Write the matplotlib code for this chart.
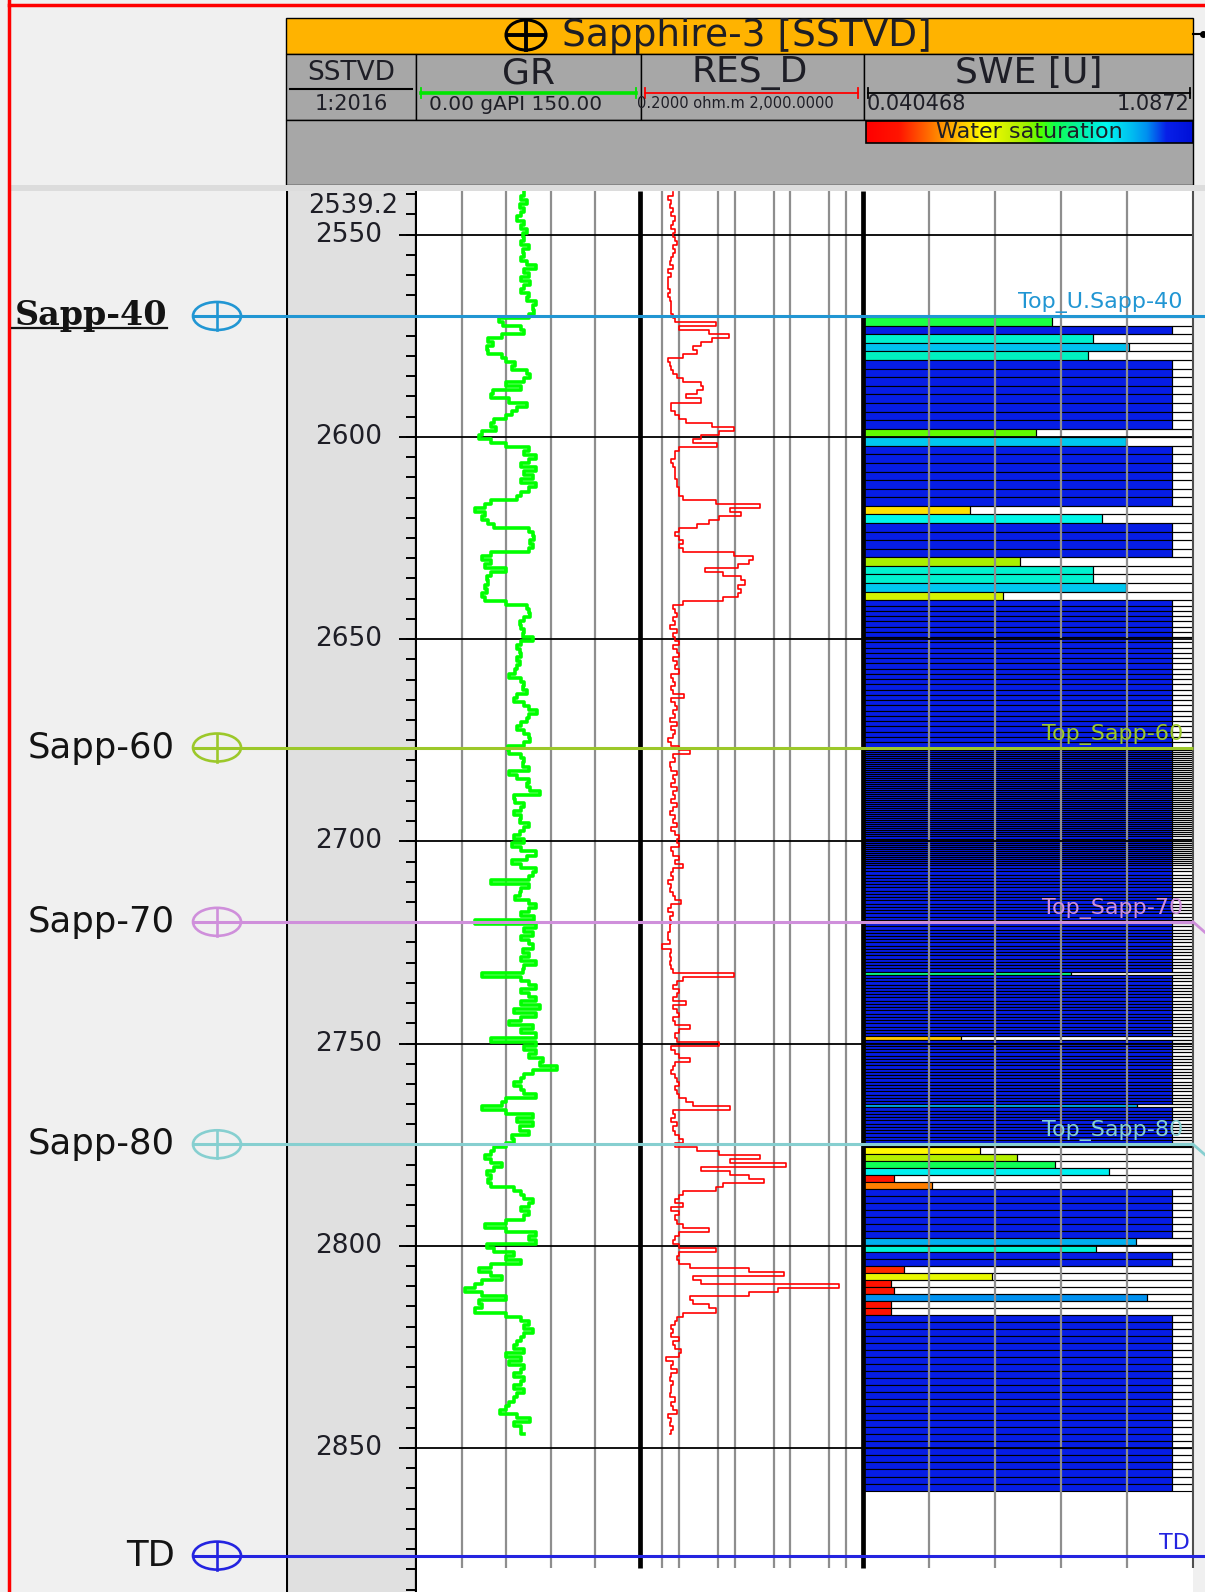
import numpy as np
import matplotlib
matplotlib.use("Agg")
import matplotlib.pyplot as plt
from matplotlib.patches import Rectangle, Ellipse
from matplotlib.colors import LinearSegmentedColormap, Normalize

plt.rcParams["font.family"] = ["DejaVu Sans"]

W, H = 1205, 1592

# ---------------------------------------------------------------- log data
DEPTH_TOP, DEPTH_BASE = 2539.2, 2885.6   # SSTVD window
LOG_BASE = 2879.7                        # bottom of the track grid
DEPTH_LABELS = [2550, 2600, 2650, 2700, 2750, 2800, 2850]

# GR (gAPI) and RES_D (ohm.m), one sample per metre from 2539.5 m
LOG_START, LOG_STEP = 2539.5, 1.0
GR = [
    72, 70, 74, 69, 72, 70, 67, 72, 70, 74, 71, 72, 70, 75, 71, 72, 70, 74, 80, 72,
    75, 70, 76, 72, 70, 75, 74, 80, 78, 79, 75, 55, 58, 70, 72, 57, 48, 51, 47, 48,
    57, 60, 66, 64, 74, 76, 72, 60, 70, 51, 50, 62,
    74, 67, 64, 60, 52, 50, 53, 44, 42, 50, 60, 75, 72, 80, 75, 70, 80, 72, 78, 70,
    80, 75, 70, 67, 50, 46, 39, 46, 44, 48, 52, 75, 78, 79, 76, 78, 75, 50, 44, 50,
    46, 60, 50, 47, 48, 46, 47, 44, 46, 60, 74, 75, 76,
    72, 69, 70, 72, 71, 78, 70, 67, 69, 70, 67, 69, 67, 66, 62, 70, 72, 71, 74, 67,
    65, 72, 75, 81, 75, 74, 70, 67, 72, 75, 76, 72, 61, 62, 70, 72, 71, 75, 62, 67,
    75, 74, 76, 83, 65, 66, 72, 70, 65, 70, 69, 75, 72,
    69, 65, 72, 64, 70, 80, 74, 64, 70, 80, 78, 75, 50, 75, 70, 69, 66, 75, 80, 75,
    70, 79, 39, 80, 72, 78, 70, 75, 78, 71, 75, 70, 80, 72, 71, 44, 70, 75, 80, 70,
    75, 80, 70, 83, 65, 80, 70, 62, 78, 70, 80, 50, 80,
    72, 80, 75, 85, 83, 94, 78, 72, 70, 65, 70, 72, 80, 60, 57, 44, 60, 78, 67, 78,
    69, 75, 64, 65, 60, 52, 50, 46, 50, 57, 52, 47, 50, 48, 50, 65, 70, 72, 78, 75,
    70, 75, 72, 60, 46, 60, 80, 75, 80, 47, 52, 65, 60,
    70, 50, 42, 50, 57, 44, 39, 32, 44, 60, 42, 44, 39, 60, 70, 75, 72, 78, 72, 70,
    67, 65, 72, 60, 70, 62, 72, 70, 65, 72, 70, 65, 72, 67, 65, 62, 60, 56, 67, 76,
    65, 70, 70, 72,
]
RES_D = [
    0.79, 0.63, 0.73, 0.68, 0.79, 0.73, 0.85, 0.79, 0.73, 0.85, 0.79, 0.85, 0.92, 0.79,
    0.85, 0.79, 0.73, 0.68, 0.79, 0.63, 0.73, 0.63, 0.63, 0.63, 0.68, 0.63, 0.68, 0.73,
    0.73, 0.73, 0.79, 0.85, 4.6, 0.99, 3.4, 7.8, 3.9, 2.5, 1.8, 2.1, 1.16, 0.63, 0.68,
    0.73, 0.79, 0.92, 1.16, 2.5, 2.7, 2.1, 1.35, 2.5,
    0.73, 0.73, 0.85, 0.99, 1.35, 3.9, 9.8, 5.3, 2.5, 1.8, 4.9, 0.99, 0.85, 0.85, 0.73,
    0.79, 0.85, 0.85, 0.85, 0.92, 0.92, 0.99, 0.99, 1.16, 4.6, 28, 8.4, 13, 5.3, 3.4,
    2.1, 0.99, 0.85, 0.99, 1.16, 0.99, 1.16, 9.8, 21, 18, 11.4, 2.9, 6.2, 13, 15, 11.4,
    13, 11.4, 6.2, 1.16, 0.79, 0.85, 0.92,
    0.79, 0.85, 0.68, 0.92, 0.79, 0.85, 0.99, 0.79, 0.92, 0.99, 0.79, 0.92, 0.85, 0.99,
    0.73, 0.79, 0.85, 0.73, 0.79, 1.25, 0.73, 0.85, 0.92, 0.79, 0.85, 0.68, 0.92, 0.73,
    0.85, 0.79, 0.63, 0.73, 0.99, 1.57, 0.79, 0.85, 0.68, 0.73, 0.92, 0.79, 0.85, 0.73,
    0.92, 0.79, 0.85, 0.73, 0.92, 0.79, 0.68, 0.85, 0.79, 0.92, 0.73,
    0.85, 0.99, 0.92, 0.99, 0.73, 0.79, 0.99, 0.85, 1.16, 0.79, 0.73, 0.79, 0.63, 0.73,
    0.68, 0.79, 0.85, 1.07, 0.73, 0.63, 0.79, 0.68, 0.73, 0.68, 0.68, 0.63, 0.63, 0.68,
    0.5, 0.73, 0.68, 0.73, 0.68, 0.73, 0.79, 9.8, 1.16, 0.92, 0.79, 0.99, 0.92, 0.79,
    1.35, 0.79, 0.92, 0.99, 0.79, 0.85, 1.57, 0.99, 0.85, 0.92, 5.3,
    0.73, 0.85, 0.99, 1.57, 0.85, 0.79, 0.73, 0.85, 0.92, 0.99, 0.85, 0.92, 0.99, 1.35,
    1.82, 8.4, 0.79, 0.85, 0.73, 0.92, 0.79, 0.85, 0.99, 1.16, 0.85, 2.1, 5.3, 28, 8.4,
    83, 2.5, 8.4, 18, 33, 6.2, 4.6, 1.16, 0.99, 0.85, 1.16, 0.73, 0.99, 0.85, 0.92,
    1.16, 3.4, 0.99, 0.85, 0.79, 0.99, 4.6, 0.99, 0.92,
    0.99, 1.57, 18, 77, 1.82, 2.5, 754, 61, 18, 1.57, 1.82, 3.4, 4.6, 1.16, 0.92, 0.85,
    0.73, 0.79, 0.73, 0.99, 0.79, 0.85, 1.07, 0.99, 0.58, 0.79, 0.73, 0.92, 0.73, 0.68,
    0.79, 0.73, 0.73, 0.68, 0.85, 0.73, 0.79, 0.92, 0.63, 0.73, 0.68, 0.79, 0.73, 0.68,
]

# SWE: runs of equally spaced samples (top of run, sample step, values)
SWE_MIN, SWE_MAX = 0.040468, 1.0872
SWE_RUN_TOPS = [2570.4, 2640.4, 2676.8, 2705.8, 2775.5]
SWE_RUN_STEPS = [2.12, 1.3, 0.5, 0.8, 1.735]
SWE_RUN_A = ([0.64, 1.02, 0.77, 0.885, 0.755] + [1.02] * 8 + [0.59, 0.875]
             + [1.02] * 7 + [0.38, 0.80] + [1.02] * 4
             + [0.54, 0.77, 0.77, 0.875, 0.485])
SWE_RUN_B = [1.02] * 28
SWE_RUN_C = [1.02] * 58
SWE_RUN_D = ([1.02] * 33 + [0.70] + [1.02] * 19 + [0.35] + [1.02] * 20
             + [0.91] + [1.02] * 12)
SWE_RUN_E = ([0.41, 0.53, 0.65, 0.82, 0.14, 0.26] + [1.02] * 7
             + [0.906, 0.78, 1.02, 1.02, 0.17, 0.45, 0.13, 0.14, 0.94, 0.13, 0.13]
             + [1.02] * 25)
SWE_RUNS = [SWE_RUN_A, SWE_RUN_B, SWE_RUN_C, SWE_RUN_D, SWE_RUN_E]

# formation tops
TOP_NAMES = ["Sapp-40", "Sapp-60", "Sapp-70", "Sapp-80", "TD"]
TOP_LABELS = ["Top_U.Sapp-40", "Top_Sapp-60", "Top_Sapp-70", "Top_Sapp-80", "TD"]
TOP_DEPTHS = [2570.1, 2676.8, 2719.9, 2774.9, 2876.6]
TOP_COLORS = ["#2196d3", "#9cc82a", "#cf8fdb", "#86cfd0", "#2424e0"]

SWE_CMAP = LinearSegmentedColormap.from_list("water_saturation", [
    (0.00, "#ff0000"), (0.10, "#ff1500"), (0.21, "#ff8000"), (0.31, "#ffd400"),
    (0.36, "#ffff00"), (0.44, "#c8f000"), (0.49, "#a0f000"), (0.535, "#50ff00"),
    (0.58, "#10ff50"), (0.69, "#00f0c8"), (0.735, "#00f8f0"), (0.81, "#00c0f0"),
    (0.86, "#0090f0"), (0.92, "#0820e8"), (1.00, "#0010d8")])

# ---------------------------------------------------------------- layout
X_DEPTH, X_GR, X_RES, X_SWE, X_END = 286, 417, 640, 863, 1193
Y_TRACK = 191
GRID = "#8e8e8e"
INK = "#1e1e26"

fig = plt.figure(figsize=(W / 100, H / 100), dpi=100, facecolor="#f0f0f0")


def px_axes(x0, y0, x1, y1, **kw):
    return fig.add_axes([x0 / W, 1 - y1 / H, (x1 - x0) / W, (y1 - y0) / H], **kw)


def strip(ax):
    for s in ax.spines.values():
        s.set_visible(False)
    ax.set_xticks([])
    ax.set_xticks([], minor=True)
    ax.set_yticks([])
    ax.set_ylim(DEPTH_BASE, DEPTH_TOP)


# background / header, pixel coordinates
bg = px_axes(0, 0, W, H, zorder=0)
bg.axis("off")

bg.add_patch(Rectangle((X_DEPTH, 18), X_END - X_DEPTH, 36, fc="#ffb300", ec="black", lw=1))
for x0, x1 in [(X_DEPTH, 416), (416, 641), (641, 864), (864, X_END)]:
    bg.add_patch(Rectangle((x0, 54), x1 - x0, 66, fc="#a7a7a7", ec="black", lw=1))
bg.add_patch(Rectangle((X_DEPTH, 120), X_END - X_DEPTH, 65, fc="#a7a7a7", ec="black", lw=1))
bg.add_patch(Rectangle((10, 185), W - 10, 6, fc="#dcdcdc", ec="none"))

# well title
bg.add_patch(Ellipse((526, 35), 40, 30, fill=False, ec="black", lw=2.2, zorder=3))
bg.plot([507, 545], [35, 35], color="black", lw=2.8, zorder=3)
bg.plot([526, 526], [20, 50], color="black", lw=2.8, zorder=3)
bg.text(562, 36, "Sapphire-3 [SSTVD]", fontsize=27, ha="left", va="center", color=INK)
bg.plot([X_END, 1203], [34, 34], color="black", lw=1.5)
bg.plot([1203], [34], "o", color="black", ms=4)

# track headers
bg.text(351, 73, "SSTVD", fontsize=19, ha="center", va="center", color=INK)
bg.plot([290, 412], [89, 89], color="black", lw=1.5)
bg.text(351, 104, "1:2016", fontsize=15, ha="center", va="center", color=INK)

for cx, name, c, x0, x1 in [(528, "GR", "#00e600", 421, 636),
                            (750, "RES_D", "#ff0000", 645, 858),
                            (1029, "SWE [U]", "black", 868, 1190)]:
    bg.text(cx, 73, name, fontsize=26, ha="center", va="center", color=INK)
    bg.plot([x0, x1], [93, 93], color=c, lw=2.6 if name == "GR" else 1.3)
    bg.plot([x0, x0], [88, 98], color=c, lw=1.3)
    bg.plot([x1, x1], [88, 98], color=c, lw=1.3)
bg.text(516, 104, "0.00 gAPI 150.00", fontsize=14.5, ha="center", va="center", color=INK)
bg.text(735, 104, "0.2000 ohm.m 2,000.0000", fontsize=10.5, ha="center", va="center", color=INK)
bg.text(867, 104, "0.040468", fontsize=15, ha="left", va="center", color=INK)
bg.text(1189, 104, "1.0872", fontsize=15, ha="right", va="center", color=INK)

bg.imshow(np.linspace(0, 1, 256)[None, :], extent=(866, X_END, 143, 121),
          cmap=SWE_CMAP, aspect="auto", interpolation="bilinear", zorder=2)
bg.add_patch(Rectangle((866, 121), X_END - 866, 22, fill=False, ec="black", lw=1.2, zorder=3))
bg.text(1029, 132, "Water saturation", fontsize=16, ha="center", va="center", color=INK,
        zorder=4)

# red frame
bg.plot([9, 9], [0, H], color="#ff0000", lw=2.5)
bg.plot([9, W], [5, 5], color="#ff0000", lw=2.5)
bg.set_xlim(0, W)
bg.set_ylim(H, 0)

# ---------------------------------------------------------------- depth track
dax = px_axes(X_DEPTH, Y_TRACK, X_GR, H, zorder=1)
strip(dax)
dax.set_facecolor("#e0e0e0")
dax.set_xlim(0, X_GR - X_DEPTH)
dax.axvline(0.7, color="black", lw=1.5)
dax.axvline(X_GR - X_DEPTH - 0.7, color="black", lw=1.6)
dax.hlines(np.arange(2540, DEPTH_BASE, 5), 120, 131, color="black", lw=1.4)
dax.hlines(DEPTH_LABELS, 113, 131, color="black", lw=1.4)
for d in DEPTH_LABELS:
    dax.text(96, d, f"{d}", fontsize=19, ha="right", va="center", color=INK)
dax.text(112, 2542.9, f"{DEPTH_TOP}", fontsize=18.5, ha="right", va="center", color=INK)

# ---------------------------------------------------------------- GR track
depth = LOG_START + LOG_STEP * np.arange(len(GR))
gax = px_axes(X_GR, Y_TRACK, X_RES, H, zorder=1)
strip(gax)
gax.set_xlim(0, 150)
gax.vlines([30, 60, 90, 120], DEPTH_TOP, LOG_BASE, color=GRID, lw=1.6)
gax.hlines(DEPTH_LABELS, 0, 150, color="black", lw=1.3)
gax.plot(GR, depth, color="#00ff00", lw=2.6, drawstyle="steps-pre")

# ---------------------------------------------------------------- RES_D track
rax = px_axes(X_RES, Y_TRACK, X_SWE, H, zorder=1)
rax.set_xscale("log")
strip(rax)
rax.set_xlim(0.2, 2000)
rax.vlines([0.5, 1, 5, 10, 50, 100, 500, 1000], DEPTH_TOP, LOG_BASE, color=GRID, lw=1.6)
rax.hlines(DEPTH_LABELS, 0.2, 2000, color="black", lw=1.3)
rax.plot(RES_D, depth, color="#ff0000", lw=1.2, drawstyle="steps-pre")
rax.vlines(0.2, DEPTH_TOP, LOG_BASE, color="black", lw=3.4, clip_on=False)

# ---------------------------------------------------------------- SWE track
sax = px_axes(X_SWE, Y_TRACK, X_END, H, zorder=1)
strip(sax)
sax.set_xlim(SWE_MIN, SWE_MAX)
sax.vlines(np.linspace(SWE_MIN, SWE_MAX, 6)[1:-1], DEPTH_TOP, LOG_BASE, color=GRID, lw=1.6)
sax.hlines(DEPTH_LABELS, SWE_MIN, SWE_MAX, color="black", lw=1.3)
norm = Normalize(SWE_MIN, SWE_MAX)
for top, step, vals in zip(SWE_RUN_TOPS, SWE_RUN_STEPS, SWE_RUNS):
    vals = np.asarray(vals)
    tops = top + step * np.arange(len(vals))
    sax.barh(tops, vals - SWE_MIN, left=SWE_MIN, height=step, align="edge",
             color=SWE_CMAP(norm(vals)), edgecolor="black", linewidth=0.8)
    sax.barh(tops, SWE_MAX - vals, left=vals, height=step, align="edge",
             fill=False, edgecolor="black", linewidth=0.8)
sax.vlines(SWE_MIN, DEPTH_TOP, LOG_BASE, color="black", lw=3.4, clip_on=False)
sax.vlines(SWE_MAX, DEPTH_TOP, LOG_BASE, color="#505050", lw=1.5, clip_on=False)

# ---------------------------------------------------------------- tops overlay
ov = px_axes(11, Y_TRACK, W, H, zorder=5)
ov.axis("off")
ov.set_xlim(11, W)
ov.set_ylim(DEPTH_BASE, DEPTH_TOP)
px_per_m = (H - Y_TRACK) / (DEPTH_BASE - DEPTH_TOP)
for name, label, d, col in zip(TOP_NAMES, TOP_LABELS, TOP_DEPTHS, TOP_COLORS):
    x_end = W if name in ("Sapp-40", "TD") else X_END
    ov.plot([193, x_end], [d, d], color=col, lw=2.2, solid_capstyle="butt")
    if name in ("Sapp-70", "Sapp-80"):
        ov.plot([X_END, W], [d, d + 2.6], color=col, lw=2.0)
    ov.add_patch(Ellipse((217, d), 48, 28 / px_per_m, fill=False, ec=col, lw=1.9))
    ov.plot([217, 217], [d - 14 / px_per_m, d + 14 / px_per_m], color=col, lw=1.9)
    if name == "Sapp-40":
        ov.text(167, d, name, fontsize=24, fontweight="bold", family="DejaVu Serif",
                ha="right", va="center", color="#141414", clip_on=True)
        ov.plot([11, 167], [d + 12.5 / px_per_m] * 2, color="#141414", lw=1.6)
    else:
        ov.text(175, d, name, fontsize=25.5, ha="right", va="center", color="#141414")
    lx = 1190 if name == "TD" else 1183
    ov.text(lx, d - 0.7, label, fontsize=16, ha="right", va="bottom", color=col)

fig.savefig("out.png", dpi=100, facecolor=fig.get_facecolor())
